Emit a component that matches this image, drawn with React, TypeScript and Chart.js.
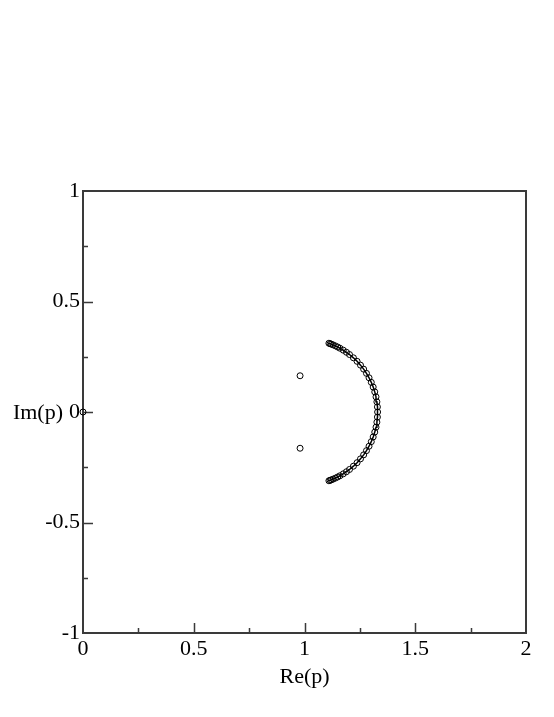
import React, { useEffect, useRef } from "react";
import { Chart, registerables } from "chart.js";

Chart.register(...registerables);

// Arc of roots (Re, Im)
const arcRe = [
  1.1102, 1.1156, 1.1209, 1.1289, 1.1395, 1.1498, 1.16, 1.1749, 1.1893, 1.2032,
  1.2208, 1.2374, 1.2528, 1.267, 1.2798, 1.2914, 1.3015, 1.3101, 1.3172, 1.3228,
  1.3268, 1.3292, 1.33, 1.3292, 1.3268, 1.3228, 1.3172, 1.3101, 1.3015, 1.2914,
  1.2798, 1.267, 1.2528, 1.2374, 1.2208, 1.2032, 1.1893, 1.1749, 1.16, 1.1498,
  1.1395, 1.1289, 1.1209, 1.1156, 1.1102,
];
const arcIm = [
  -0.3111, -0.3091, -0.307, -0.3038, -0.2991, -0.294, -0.2886, -0.2798, -0.2703, -0.26,
  -0.2452, -0.2293, -0.2121, -0.194, -0.1749, -0.1549, -0.1342, -0.1129, -0.091, -0.0686,
  -0.0459, -0.023, 0, 0.023, 0.0459, 0.0686, 0.091, 0.1129, 0.1342, 0.1549,
  0.1749, 0.194, 0.2121, 0.2293, 0.2452, 0.26, 0.2703, 0.2798, 0.2886, 0.294,
  0.2991, 0.3038, 0.307, 0.3091, 0.3111,
];
// Isolated points
const extraRe = [0.98, 0.98, 0];
const extraIm = [0.164, -0.164, 0];

// Axes
const xMin = 0, xMax = 2;
const yMin = -1, yMax = 1;
const majorStep = 0.5;
const minorStep = 0.25;
const xTitle = "Re(p)";
const yTitle = "Im(p)";

const FONT = "'Liberation Serif', 'Times New Roman', serif";
const FONT_SIZE = 22;
const AXIS_COLOR = "#3a3a3a";

const fmt = (v: number) => {
  const r = Math.round(v * 100) / 100;
  return String(r);
};

const framePlugin = {
  id: "frameTicks",
  beforeDatasetsDraw(chart: any) {
    const { ctx, chartArea, scales } = chart;
    const xs = scales.x;
    const ys = scales.y;
    ctx.save();
    ctx.strokeStyle = AXIS_COLOR;
    ctx.lineWidth = 2;
    ctx.strokeRect(chartArea.left, chartArea.top, chartArea.right - chartArea.left, chartArea.bottom - chartArea.top);
    ctx.lineWidth = 1.5;
    ctx.beginPath();
    const nX = Math.round((xMax - xMin) / minorStep);
    for (let i = 1; i < nX; i++) {
      const v = xMin + i * minorStep;
      const len = i % 2 === 0 ? 10 : 5;
      const px = Math.round(xs.getPixelForValue(v)) + 0.5;
      ctx.moveTo(px, chartArea.bottom);
      ctx.lineTo(px, chartArea.bottom - len);
    }
    const nY = Math.round((yMax - yMin) / minorStep);
    for (let i = 1; i < nY; i++) {
      const v = yMin + i * minorStep;
      const len = i % 2 === 0 ? 10 : 5;
      const py = Math.round(ys.getPixelForValue(v)) + 0.5;
      ctx.moveTo(chartArea.left, py);
      ctx.lineTo(chartArea.left + len, py);
    }
    ctx.stroke();
    // y-axis title, horizontal at Im = 0
    ctx.fillStyle = "#000";
    ctx.font = `${FONT_SIZE}px ${FONT}`;
    ctx.textAlign = "right";
    ctx.textBaseline = "middle";
    ctx.fillText(yTitle, 63, ys.getPixelForValue(0) + 1);
    ctx.restore();
  },
};

export default function App() {
  const ref = useRef<HTMLCanvasElement>(null);
  useEffect(() => {
    if (!ref.current) return;
    const arcData = arcRe.map((x, i) => ({ x, y: arcIm[i] }));
    const extraData = extraRe.map((x, i) => ({ x, y: extraIm[i] }));
    const chart = new Chart(ref.current, {
      type: "scatter",
      data: {
        datasets: [
          {
            data: arcData,
            showLine: true,
            borderColor: "#000",
            borderWidth: 1.5,
            pointRadius: 0,
            fill: false,
          } as any,
          {
            data: arcData,
            showLine: false,
            pointStyle: "circle",
            pointRadius: 3,
            pointBorderWidth: 1,
            pointBorderColor: "#000",
            pointBackgroundColor: "rgba(0,0,0,0)",
          },
          {
            data: extraData,
            showLine: false,
            clip: false,
            pointStyle: "circle",
            pointRadius: 3,
            pointBorderWidth: 1,
            pointBorderColor: "#000",
            pointBackgroundColor: "rgba(0,0,0,0)",
          } as any,
        ],
      },
      options: {
        responsive: false,
        animation: false,
        devicePixelRatio: 1,
        layout: { padding: { left: 0, right: 28, top: 191, bottom: 0 } },
        plugins: { legend: { display: false }, tooltip: { enabled: false } },
        scales: {
          x: {
            type: "linear",
            min: xMin,
            max: xMax,
            grid: { display: false, drawTicks: false },
            border: { display: false },
            ticks: {
              stepSize: majorStep,
              color: "#000",
              padding: 3,
              maxRotation: 0,
              font: { family: FONT, size: FONT_SIZE },
              callback: (v: any) => fmt(Number(v)),
            },
            title: {
              display: true,
              text: xTitle,
              color: "#000",
              font: { family: FONT, size: FONT_SIZE },
              padding: { top: 0, bottom: 27 },
            },
            afterFit: (s: any) => {
              s.height = 84;
            },
          },
          y: {
            type: "linear",
            min: yMin,
            max: yMax,
            grid: { display: false, drawTicks: false },
            border: { display: false },
            ticks: {
              stepSize: majorStep,
              color: "#000",
              padding: 3,
              font: { family: FONT, size: FONT_SIZE },
              callback: (v: any) => fmt(Number(v)),
            },
            afterFit: (s: any) => {
              s.width = 83;
            },
          },
        },
      },
      plugins: [framePlugin],
    });
    return () => chart.destroy();
  }, []);
  return (
    <div style={{ position: "absolute", left: 0, top: 0, width: 554, height: 717, background: "#fff" }}>
      <canvas ref={ref} width={554} height={717} style={{ display: "block" }} />
    </div>
  );
}
